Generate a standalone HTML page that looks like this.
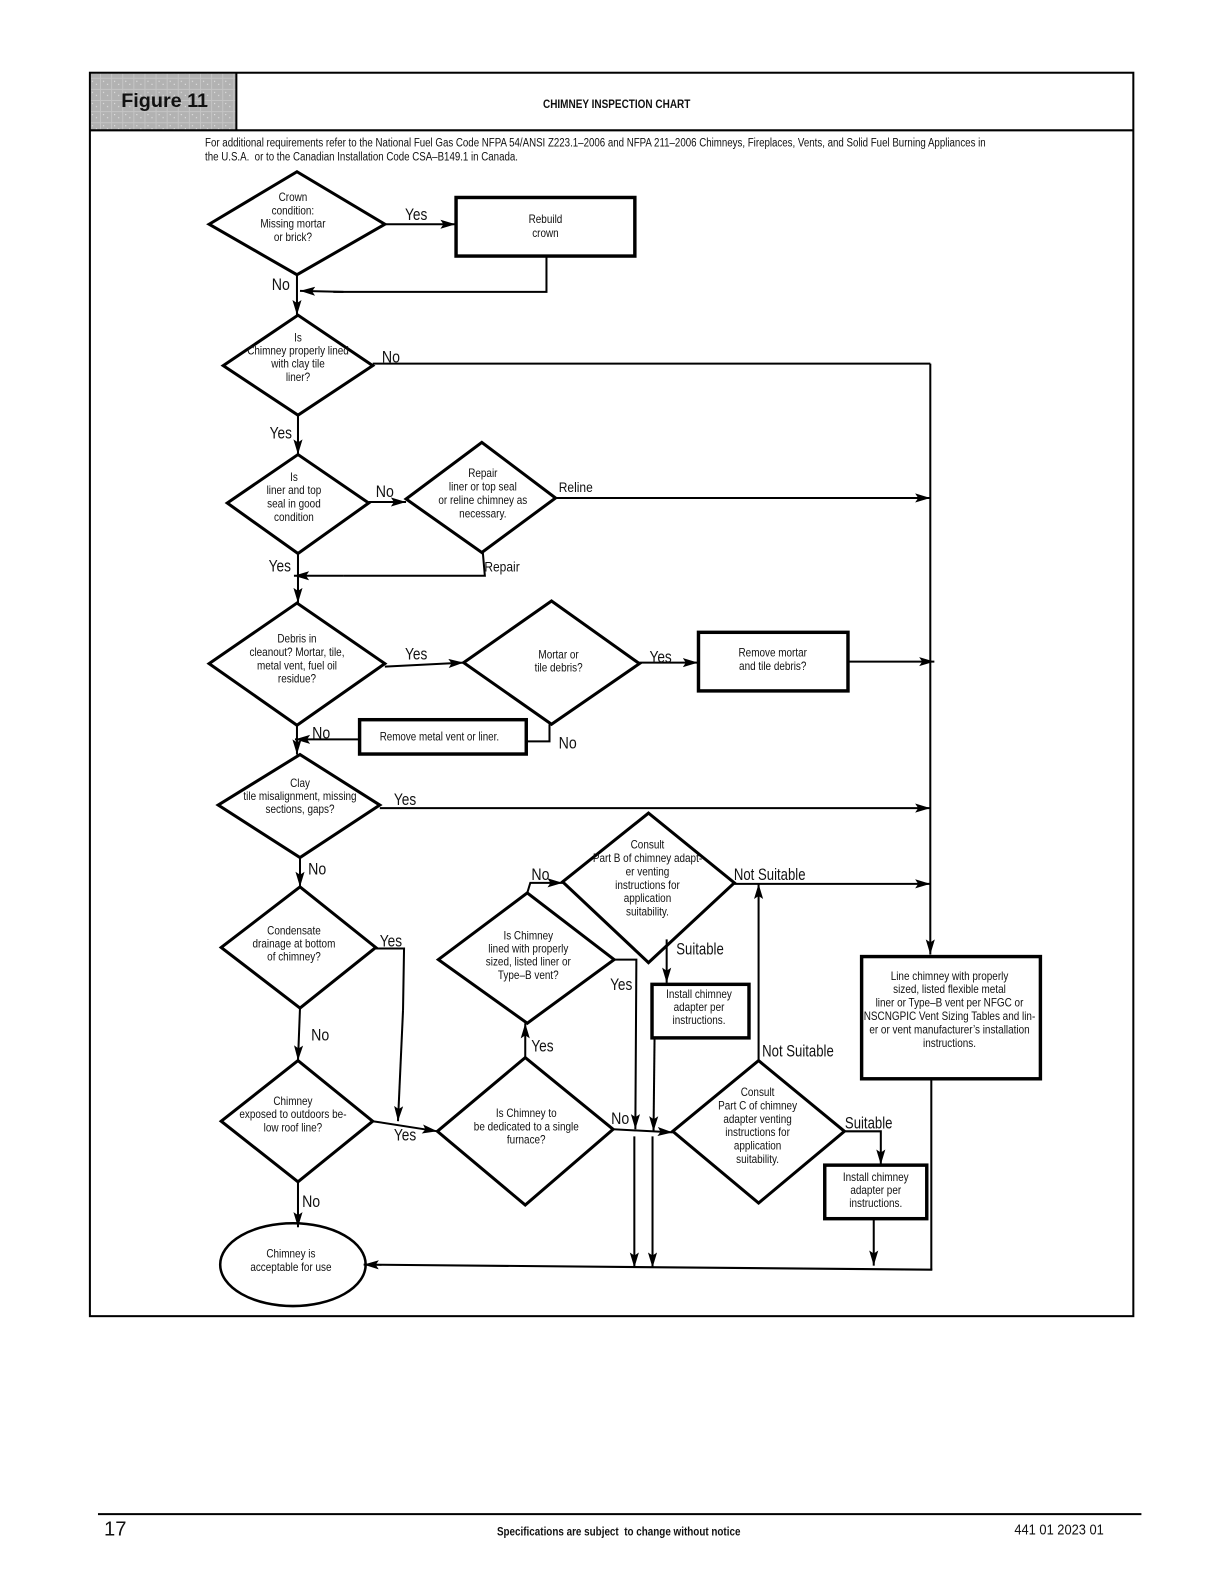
<!DOCTYPE html>
<html><head><meta charset="utf-8"><style>
html,body{margin:0;padding:0;background:#fff}
svg{display:block}
text{font-family:"Liberation Sans",sans-serif;fill:#111}
.t{font-size:12px;text-anchor:middle}
.l{font-size:16.5px;text-anchor:middle}
.m{font-size:14px;text-anchor:middle}
.s{fill:none;stroke:#000;stroke-width:2}
.d{fill:none;stroke:#000;stroke-width:3}
.r{fill:none;stroke:#000;stroke-width:3.400}
.a{fill:none;stroke:#000;stroke-width:2;marker-end:url(#ar)}
</style></head><body>
<svg width="1224" height="1584" viewBox="0 0 1224 1584" xmlns="http://www.w3.org/2000/svg">
<defs>
<marker id="ar" markerUnits="userSpaceOnUse" markerWidth="16" markerHeight="12" refX="15" refY="6" orient="auto"><path d="M0 1.500L15 6L0 10.500L3 6Z" fill="#000"/></marker>
<pattern id="gp" width="11" height="11" patternUnits="userSpaceOnUse"><rect width="11" height="11" fill="#b2b2b2"/><rect x="0" y="0" width="1" height="11" fill="#c4c4c4"/><rect x="0" y="0" width="11" height="1" fill="#c4c4c4"/><rect x="3" y="3" width="1" height="1" fill="#eee"/><rect x="7" y="6" width="1" height="1" fill="#eee"/></pattern>
</defs>
<g transform="scale(1.0101)">
<rect x="90" y="73" width="144" height="56" fill="url(#gp)"/>
<rect x="89" y="72" width="1033" height="1231" class="s"/>
<path d="M89 129H1122M234 72V129" class="s"/>
<text x="120" y="106" font-size="19.600" font-weight="bold">Figure 11</text>
<text transform="translate(610.500,107) scale(.86 1)" font-size="11.500" font-weight="bold" text-anchor="middle">CHIMNEY INSPECTION CHART</text>
<text transform="translate(203,145) scale(.802 1)" font-size="12">For additional requirements refer to the National Fuel Gas Code NFPA 54/ANSI Z223.1–2006 and NFPA 211–2006 Chimneys, Fireplaces, Vents, and Solid Fuel Burning Appliances in</text>
<text transform="translate(203,159) scale(.802 1)" font-size="12">the U.S.A.&#160; or to the Canadian Installation Code CSA–B149.1 in Canada.</text>

<!-- shapes -->
<path class="d" d="M207 222L294 170L381 222L294 272Z"/>
<path class="d" d="M221 362L295 312L369 362L295 411Z"/>
<path class="d" d="M225 498L295 450L365 498L295 548Z"/>
<path class="d" d="M402 494L477 438L550 493L477 547Z"/>
<path class="d" d="M207 657L294 597L381 657L294 718Z"/>
<path class="d" d="M459 656L546 595L633 657L546 717Z"/>
<path class="d" d="M216 797L297 747L376 797L297 849Z"/>
<path class="d" d="M219 938L297 878L372 938L297 998Z"/>
<path class="d" d="M219 1110L295 1050L369 1110L295 1170Z"/>
<path class="d" d="M433 1120L520 1047L607 1118L520 1193Z"/>
<path class="d" d="M434 950L522 884L608 950L522 1013Z"/>
<path class="d" d="M557 873L642 805L727 874L642 953Z"/>
<path class="d" d="M666 1120L751 1050L836 1120L751 1191Z"/>
<ellipse class="s" cx="290" cy="1252" rx="72" ry="41" style="stroke-width:2.500"/>
<rect class="r" x="451.500" y="195.500" width="177" height="58"/>
<rect class="r" x="691.500" y="626" width="148" height="58"/>
<rect class="r" x="356" y="712.500" width="165" height="34"/>
<rect class="r" x="645.500" y="974.500" width="96" height="53"/>
<rect class="r" x="816.500" y="1153.500" width="101" height="53"/>
<rect class="r" x="853" y="947" width="177" height="121"/>

<!-- connectors -->
<path class="a" d="M381 222H451"/>
<path class="s" d="M541 254V289H330"/><path class="a" d="M340 289L297 288"/>
<path class="a" d="M294 272V312"/>
<path class="s" d="M369 360H921"/>
<path class="a" d="M921 360V945"/>
<path class="a" d="M295 411V450"/>
<path class="a" d="M365 497H402"/>
<path class="a" d="M550 493H921"/>
<path class="s" d="M478 547L480 570H340"/><path class="a" d="M340 570H291"/>
<path class="a" d="M295 548V597"/>
<path class="a" d="M381 660L459 656"/>
<path class="a" d="M633 656H691"/>
<path class="a" d="M839 655H925"/>
<path class="s" d="M544 717V734H522"/>
<path class="a" d="M356 732H292"/>
<path class="a" d="M294 718V747"/>
<path class="a" d="M376 800H921"/>
<path class="a" d="M297 849V878"/>
<path class="s" d="M372 939H400L399 1000"/><path class="a" d="M399 1000L394 1110"/>
<path class="a" d="M297 998L295 1050"/>
<path class="a" d="M369 1110L433 1120"/>
<path class="a" d="M295 1170V1215"/>
<path class="a" d="M520 1047V1013"/>
<path class="a" d="M522 884L525 874H557"/>
<path class="a" d="M727 875H921"/>
<path class="a" d="M660 930V973"/>
<path class="a" d="M648 1028L647 1120"/>
<path class="a" d="M646 1125V1255"/>
<path class="a" d="M608 950H630L629 1118"/>
<path class="a" d="M628 1125V1255"/>
<path class="a" d="M607 1118L666 1121"/>
<path class="a" d="M751 1050V875"/>
<path class="a" d="M836 1120H872V1153"/>
<path class="a" d="M865 1207V1253"/>
<path class="s" d="M922 1068V1257"/>
<path class="a" d="M923 1257L360 1252"/>

<!-- node text -->
<text class="t" transform="translate(290,199) scale(.82 1)"><tspan x="0">Crown</tspan><tspan x="0" dy="13.200">condition:</tspan><tspan x="0" dy="13.200">Missing mortar</tspan><tspan x="0" dy="13.200">or brick?</tspan></text>
<text class="t" transform="translate(540,221) scale(.82 1)"><tspan x="0">Rebuild</tspan><tspan x="0" dy="13.500">crown</tspan></text>
<text class="t" transform="translate(295,338) scale(.82 1)"><tspan x="0">Is</tspan><tspan x="0" dy="13">Chimney properly lined</tspan><tspan x="0" dy="13">with clay tile</tspan><tspan x="0" dy="13">liner?</tspan></text>
<text class="t" transform="translate(291,476) scale(.82 1)"><tspan x="0">Is</tspan><tspan x="0" dy="13.300">liner and top</tspan><tspan x="0" dy="13.300">seal in good</tspan><tspan x="0" dy="13.300">condition</tspan></text>
<text class="t" transform="translate(478,472) scale(.82 1)"><tspan x="0">Repair</tspan><tspan x="0" dy="13.500">liner or top seal</tspan><tspan x="0" dy="13.500">or reline chimney as</tspan><tspan x="0" dy="13.500">necessary.</tspan></text>
<text class="t" transform="translate(294,636) scale(.82 1)"><tspan x="0">Debris in</tspan><tspan x="0" dy="13.300">cleanout? Mortar, tile,</tspan><tspan x="0" dy="13.300">metal vent, fuel oil</tspan><tspan x="0" dy="13.300">residue?</tspan></text>
<text class="t" transform="translate(553,652) scale(.82 1)"><tspan x="0">Mortar or</tspan><tspan x="0" dy="13">tile debris?</tspan></text>
<text class="t" transform="translate(765,650) scale(.82 1)"><tspan x="0">Remove mortar</tspan><tspan x="0" dy="13.500">and tile debris?</tspan></text>
<text class="t" transform="translate(435,733) scale(.81 1)">Remove metal vent or liner.</text>
<text class="t" transform="translate(297,779) scale(.82 1)"><tspan x="0">Clay</tspan><tspan x="0" dy="13">tile misalignment, missing</tspan><tspan x="0" dy="13">sections, gaps?</tspan></text>
<text class="t" transform="translate(291,925) scale(.82 1)"><tspan x="0">Condensate</tspan><tspan x="0" dy="13">drainage at bottom</tspan><tspan x="0" dy="13">of chimney?</tspan></text>
<text class="t" transform="translate(290,1094) scale(.82 1)"><tspan x="0">Chimney</tspan><tspan x="0" dy="13">exposed to outdoors be-</tspan><tspan x="0" dy="13">low roof line?</tspan></text>
<text class="t" transform="translate(288,1245) scale(.82 1)"><tspan x="0">Chimney is</tspan><tspan x="0" dy="13.500">acceptable for use</tspan></text>
<text class="t" transform="translate(521,1106) scale(.82 1)"><tspan x="0">Is Chimney to</tspan><tspan x="0" dy="13">be dedicated to a single</tspan><tspan x="0" dy="13">furnace?</tspan></text>
<text class="t" transform="translate(523,930) scale(.82 1)"><tspan x="0">Is Chimney</tspan><tspan x="0" dy="13">lined with properly</tspan><tspan x="0" dy="13">sized, listed liner or</tspan><tspan x="0" dy="13">Type–B vent?</tspan></text>
<text class="t" transform="translate(641,840) scale(.82 1)"><tspan x="0">Consult</tspan><tspan x="0" dy="13.300">Part B of chimney adapt-</tspan><tspan x="0" dy="13.300">er venting</tspan><tspan x="0" dy="13.300">instructions for</tspan><tspan x="0" dy="13.300">application</tspan><tspan x="0" dy="13.300">suitability.</tspan></text>
<text class="t" transform="translate(692,988) scale(.82 1)"><tspan x="0">Install chimney</tspan><tspan x="0" dy="13">adapter per</tspan><tspan x="0" dy="13">instructions.</tspan></text>
<text class="t" transform="translate(750,1085) scale(.82 1)"><tspan x="0">Consult</tspan><tspan x="0" dy="13.300">Part C of chimney</tspan><tspan x="0" dy="13.300">adapter venting</tspan><tspan x="0" dy="13.300">instructions for</tspan><tspan x="0" dy="13.300">application</tspan><tspan x="0" dy="13.300">suitability.</tspan></text>
<text class="t" transform="translate(867,1169) scale(.82 1)"><tspan x="0">Install chimney</tspan><tspan x="0" dy="13">adapter per</tspan><tspan x="0" dy="13">instructions.</tspan></text>
<text class="t" transform="translate(940,970) scale(.82 1)"><tspan x="0">Line chimney with properly</tspan><tspan x="0" dy="13.300">sized, listed flexible metal</tspan><tspan x="0" dy="13.300">liner or Type–B vent per NFGC or</tspan><tspan x="0" dy="13.300">NSCNGPIC Vent Sizing Tables and lin-</tspan><tspan x="0" dy="13.300">er or vent manufacturer’s installation</tspan><tspan x="0" dy="13.300">instructions.</tspan></text>

<!-- connector labels -->
<text class="l" transform="translate(412,218) scale(.82 1)">Yes</text>
<text class="l" transform="translate(278,287) scale(.85 1)">No</text>
<text class="l" transform="translate(387,359) scale(.85 1)">No</text>
<text class="l" transform="translate(278,434) scale(.82 1)">Yes</text>
<text class="l" transform="translate(381,492) scale(.85 1)">No</text>
<text class="m" transform="translate(570,487) scale(.85 1)">Reline</text>
<text class="m" transform="translate(497,566) scale(.85 1)">Repair</text>
<text class="l" transform="translate(277,566) scale(.82 1)">Yes</text>
<text class="l" transform="translate(412,653) scale(.82 1)">Yes</text>
<text class="l" transform="translate(654,656) scale(.82 1)">Yes</text>
<text class="l" transform="translate(318,731) scale(.85 1)">No</text>
<text class="l" transform="translate(562,741) scale(.85 1)">No</text>
<text class="l" transform="translate(401,797) scale(.82 1)">Yes</text>
<text class="l" transform="translate(314,866) scale(.85 1)">No</text>
<text class="l" transform="translate(387,937) scale(.82 1)">Yes</text>
<text class="l" transform="translate(317,1030) scale(.85 1)">No</text>
<text class="l" transform="translate(401,1129) scale(.82 1)">Yes</text>
<text class="l" transform="translate(308,1195) scale(.85 1)">No</text>
<text class="l" transform="translate(537,1041) scale(.82 1)">Yes</text>
<text class="l" transform="translate(535,871) scale(.85 1)">No</text>
<text class="l" transform="translate(762,871) scale(.79 1)">Not Suitable</text>
<text class="l" transform="translate(693,945) scale(.79 1)">Suitable</text>
<text class="l" transform="translate(615,980) scale(.82 1)">Yes</text>
<text class="l" transform="translate(614,1113) scale(.85 1)">No</text>
<text class="l" transform="translate(790,1046) scale(.79 1)">Not Suitable</text>
<text class="l" transform="translate(860,1117) scale(.79 1)">Suitable</text>

<!-- footer -->
<path d="M97 1499H1130" stroke="#000" stroke-width="2"/>
<text x="103" y="1520" font-size="20">17</text>
<text transform="translate(612.500,1520) scale(.815 1)" font-size="12" font-weight="bold" text-anchor="middle">Specifications are subject&#160; to change without notice</text>
<text transform="translate(1048.500,1519) scale(.85 1)" font-size="15" text-anchor="middle">441 01 2023 01</text>
</g>
</svg>
</body></html>
